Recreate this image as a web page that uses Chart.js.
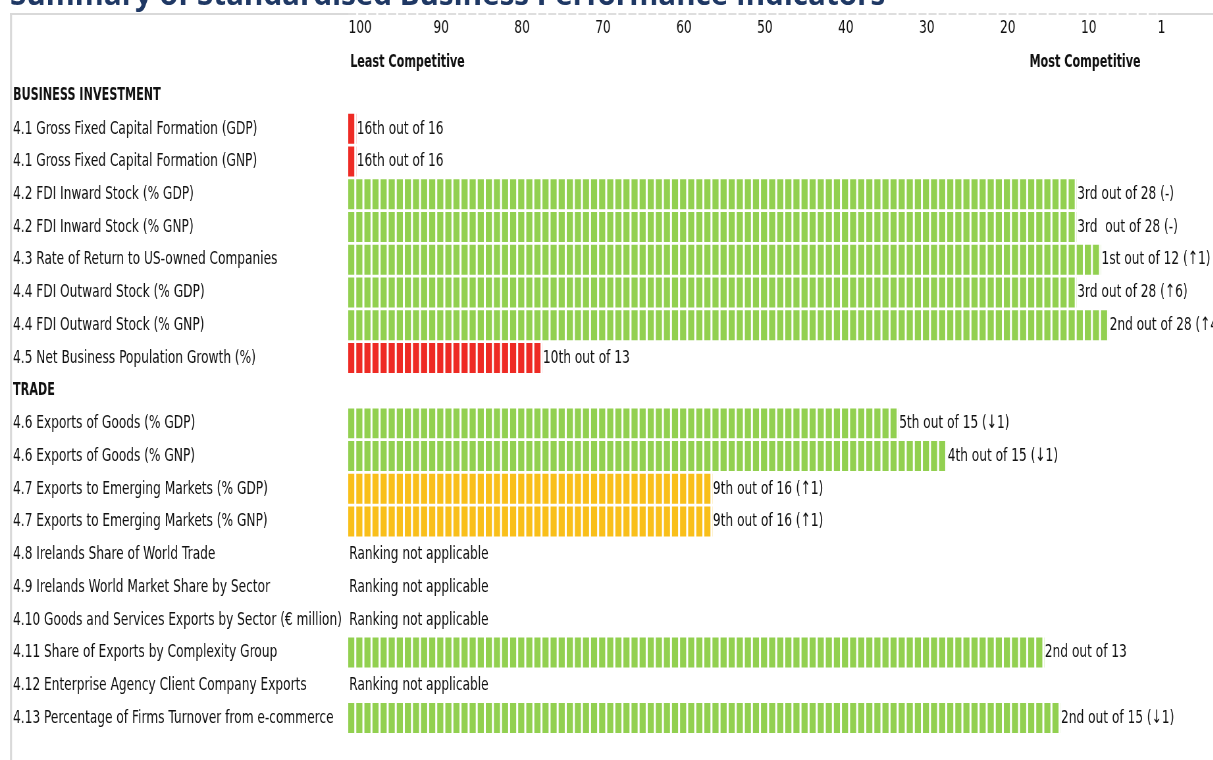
<!DOCTYPE html>
<html><head><meta charset="utf-8">
<script src="https://cdn.jsdelivr.net/npm/chart.js@4.4.1/dist/chart.umd.min.js"></script>
<style>
html,body{margin:0;padding:0;background:#fff;overflow:hidden;width:1213px;height:760px;}
#wrap{position:absolute;left:0;top:0;height:760px;transform-origin:0 0;}
</style></head><body>
<div id="wrap"><canvas id="c"></canvas></div>
<script>
// ---------- data ----------
const titleText = 'Summary of Standardised Business Performance Indicators';
const categories = [
  'BUSINESS INVESTMENT',
  '4.1 Gross Fixed Capital Formation (GDP)',
  '4.1 Gross Fixed Capital Formation (GNP)',
  '4.2 FDI Inward Stock (% GDP)',
  '4.2 FDI Inward Stock (% GNP)',
  '4.3 Rate of Return to US-owned Companies',
  '4.4 FDI Outward Stock (% GDP)',
  '4.4 FDI Outward Stock (% GNP)',
  '4.5 Net Business Population Growth (%)',
  'TRADE',
  '4.6 Exports of Goods (% GDP)',
  '4.6 Exports of Goods (% GNP)',
  '4.7 Exports to Emerging Markets (% GDP)',
  '4.7 Exports to Emerging Markets (% GNP)',
  '4.8 Irelands Share of World Trade',
  '4.9 Irelands World Market Share by Sector',
  '4.10 Goods and Services Exports by Sector (\u20ac million)',
  '4.11 Share of Exports by Complexity Group',
  '4.12 Enterprise Agency Client Company Exports',
  '4.13 Percentage of Firms Turnover from e-commerce'
];
const sectionRows = ['BUSINESS INVESTMENT', 'TRADE'];
const scores = [null, 1, 1, 90, 90, 93, 90, 94, 24, null, 68, 74, 45, 45, null, null, null, 86, null, 88];
const ratings = ['', 'low', 'low', 'high', 'high', 'high', 'high', 'high', 'low', '',
  'high', 'high', 'mid', 'mid', '', '', '', 'high', '', 'high'];
const rankLabels = ['', '16th out of 16', '16th out of 16', '3rd out of 28 (-)', '3rd  out of 28 (-)',
  '1st out of 12 (\u21911)', '3rd out of 28 (\u21916)', '2nd out of 28 (\u21914)', '10th out of 13', '',
  '5th out of 15 (\u21931)', '4th out of 15 (\u21931)', '9th out of 16 (\u21911)', '9th out of 16 (\u21911)',
  'Ranking not applicable', 'Ranking not applicable', 'Ranking not applicable', '2nd out of 13',
  'Ranking not applicable', '2nd out of 15 (\u21931)'];
const tickValues = [0, 10, 20, 30, 40, 50, 60, 70, 80, 90, 99];
const tickLabels = ['100', '90', '80', '70', '60', '50', '40', '30', '20', '10', '1'];
const axisCaptions = ['Least Competitive', 'Most Competitive'];

// ---------- styling ----------
const ratingColours = { low: '#EE2A24', mid: '#F9BF1A', high: '#92D050' };
const FONT = 'DejaVu Sans';
const FS = 18.5;
const FSB = 17;
const mctx = document.createElement('canvas').getContext('2d');
mctx.font = FS + 'px "' + FONT + '"';
const calib = mctx.measureText('Ranking not applicable').width +
  mctx.measureText('4.13 Percentage of Firms Turnover from e-commerce').width +
  mctx.measureText('4.1 Gross Fixed Capital Formation (GDP)').width;
const S = (135 + 325 + 244) / calib; // horizontal squeeze of the sheet
const VW = 1213 / S;
const wrap = document.getElementById('wrap');
wrap.style.width = VW + 'px';
wrap.style.transform = 'scaleX(' + S + ')';
const R = px => px / S;

const deco = {
  id: 'deco',
  beforeDraw(chart) {
    const ctx = chart.ctx;
    ctx.save();
    ctx.fillStyle = '#fff';
    ctx.fillRect(0, 0, chart.width, chart.height);
    ctx.scale(1 / S, 1);
    // title (cropped at top)
    ctx.font = 'bold 27px "Open Sans"';
    const w = ctx.measureText(titleText).width;
    const tf = 27 * 875 / w;
    ctx.font = 'bold ' + tf + 'px "Open Sans"';
    ctx.fillStyle = '#1F3864';
    ctx.textBaseline = 'alphabetic';
    ctx.textAlign = 'left';
    ctx.fillText(titleText, 10, 5);
    // table borders
    ctx.fillStyle = '#D9D9D9';
    ctx.fillRect(10, 13, 2, 747);
    ctx.fillRect(10, 13, 338, 2);
    ctx.fillRect(1157, 13, 56, 2);
    ctx.fillStyle = '#DEDEDE';
    for (let xx = 348; xx < 1157; xx += 10) ctx.fillRect(xx, 13, Math.min(8, 1157 - xx), 2);
    ctx.restore();
  },
  afterDatasetsDraw(chart) {
    const ctx = chart.ctx;
    const x = chart.scales.x, y = chart.scales.y;
    const meta = chart.getDatasetMeta(0);
    ctx.save();
    meta.data.forEach((bar, i) => {
      const v = scores[i];
      const yc = y.getPixelForValue(i);
      if (v != null) {
        const h = bar.height;
        ctx.fillStyle = '#fff';
        for (let k = 1; k <= v; k++) {
          const px = x.getPixelForValue(k);
          ctx.fillRect(px - R(2), yc - h / 2 - 1, R(2), h + 2);
        }
      }
      const txt = rankLabels[i];
      if (txt) {
        ctx.fillStyle = '#111';
        ctx.font = FS + 'px "' + FONT + '"';
        ctx.textBaseline = 'middle';
        ctx.textAlign = 'left';
        const xv = v != null ? x.getPixelForValue(v) + R(0.5) : x.getPixelForValue(0) + R(1);
        ctx.fillText(txt, xv, yc);
      }
    });
    ctx.fillStyle = '#111';
    ctx.font = 'bold ' + FSB + 'px "' + FONT + '"';
    ctx.textBaseline = 'middle';
    ctx.textAlign = 'left';
    ctx.fillText(axisCaptions[0], x.getPixelForValue(0) + R(2), 63);
    ctx.textAlign = 'right';
    ctx.fillText(axisCaptions[1], x.getPixelForValue(0) + R(1140 - 348), 63);
    ctx.restore();
  }
};

new Chart(document.getElementById('c'), {
  type: 'bar',
  data: {
    labels: categories,
    datasets: [{
      data: scores,
      backgroundColor: ratings.map(r => ratingColours[r] || 'rgba(0,0,0,0)'),
      borderWidth: 0,
      barPercentage: 0.916,
      categoryPercentage: 1
    }]
  },
  options: {
    indexAxis: 'y',
    responsive: true,
    maintainAspectRatio: false,
    animation: false,
    events: [],
    layout: { padding: { left: R(13), right: R(1213 - 1157), top: 1, bottom: 25.6 } },
    plugins: { legend: { display: false }, tooltip: { enabled: false }, title: { display: false } },
    scales: {
      x: {
        position: 'top',
        min: 0, max: 100,
        grid: { display: false, drawTicks: false, tickLength: 0 },
        border: { display: false },
        afterBuildTicks: s => { s.ticks = tickValues.map(v => ({ value: v })); },
        afterFit: s => { s.height = 78.6; },
        ticks: {
          autoSkip: false, maxRotation: 0, minRotation: 0,
          labelOffset: R(12),
          padding: 40.5,
          color: '#111',
          font: { family: FONT, size: FS },
          callback: (val, idx) => tickLabels[idx]
        }
      },
      y: {
        grid: { display: false, drawTicks: false, tickLength: 0 },
        border: { display: false },
        afterFit: s => { s.width = R(348 - 13); },
        ticks: {
          autoSkip: false,
          crossAlign: 'far',
          color: '#111',
          font: ctx => (sectionRows.includes(categories[ctx.index])
            ? { family: FONT, size: FSB, weight: 'bold' }
            : { family: FONT, size: FS, weight: 'normal' })
        }
      }
    }
  },
  plugins: [deco]
});
</script>
</body></html>
